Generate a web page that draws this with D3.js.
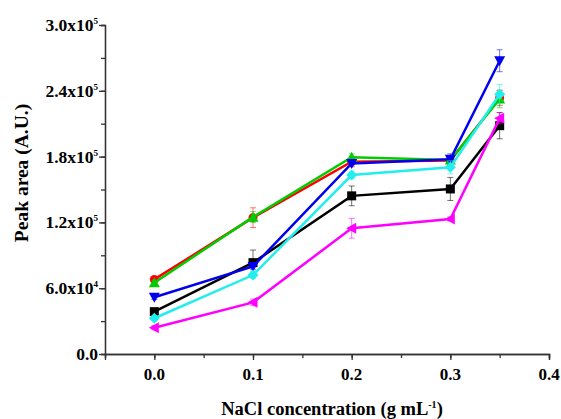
<!DOCTYPE html>
<html lang="en">
<head>
<meta charset="utf-8">
<script src="https://d3js.org/d3.v7.min.js"></script>
<style>
  body { margin: 0; background: #fff; }
  text { font-family: "Liberation Serif", "Times New Roman", serif; font-weight: bold; fill: #000; }
  .axis path, .axis line { stroke: #333; stroke-width: 1.3px; }
</style>
</head>
<body>
<svg id="chart" width="561" height="419"></svg>
<script>
// NaCl concentration (g/mL)
const conc = [0, 0.1, 0.2, 0.3, 0.35];

// peak areas per series
const blackVals   = [38600, 83300, 144200, 150500, 208200];
const redVals     = [68000, 124300, 175400, 176500, 233500];
const greenVals   = [65000, 124800, 179500, 176900, 232500];
const blueVals    = [51700, 79800, 173800, 177500, 267400];
const cyanVals    = [32600, 72000, 163200, 170200, 236800];
const magentaVals = [24000, 47100, 114600, 123100, 214900];

// error bars (+/-)
const blackErr   = [2500, 11500, 9000, 10500, 12000];
const redErr     = [2000, 9000, 3000, 4000, 7000];
const greenErr   = [2000, 5000, 3000, 4000, 8000];
const blueErr    = [2000, 3000, 3000, 5000, 10000];
const cyanErr    = [2000, 3000, 3000, 6000, 9000];
const magentaErr = [2000, 3000, 9000, 2000, 5000];

const yTicks = [0, 60000, 120000, 180000, 240000, 300000];
const yTickText = [["0.0", ""], ["6.0x10", "4"], ["1.2x10", "5"], ["1.8x10", "5"], ["2.4x10", "5"], ["3.0x10", "5"]];
const xTicks = [0, 0.1, 0.2, 0.3, 0.4];

const series = [
  {vals: blackVals,   err: blackErr,   color: "#000000", sym: "square"},
  {vals: redVals,     err: redErr,     color: "#ff0000", sym: "circle"},
  {vals: greenVals,   err: greenErr,   color: "#00cc00", sym: "up"},
  {vals: blueVals,    err: blueErr,    color: "#0000ee", sym: "down"},
  {vals: cyanVals,    err: cyanErr,    color: "#22eeee", sym: "diamond"},
  {vals: magentaVals, err: magentaErr, color: "#ff00ff", sym: "left"}
];

const svg = d3.select("#chart");
const x = d3.scaleLinear().domain([-0.05, 0.4]).range([105, 549]);
const y = d3.scaleLinear().domain([0, 300000]).range([354, 25]);

// axes: minor ticks first, then majors
svg.append("g").attr("class", "axis").attr("transform", "translate(0,354)")
  .call(d3.axisBottom(x).tickValues(d3.range(-0.05, 0.41, 0.05)).tickSize(4).tickFormat(""));
svg.append("g").attr("class", "axis").attr("transform", "translate(0,354)")
  .call(d3.axisBottom(x).tickValues(xTicks).tickSize(6).tickSizeOuter(6).tickFormat(""));
svg.append("g").attr("class", "axis").attr("transform", "translate(105,0)")
  .call(d3.axisLeft(y).tickValues(d3.range(0, 300001, 30000)).tickSize(4).tickFormat(""));
svg.append("g").attr("class", "axis").attr("transform", "translate(105,0)")
  .call(d3.axisLeft(y).tickValues(yTicks).tickSize(6).tickSizeOuter(0).tickFormat(""));

// x tick labels
svg.append("g").selectAll("text").data(xTicks).join("text")
  .attr("x", d => x(d)).attr("y", 380)
  .attr("text-anchor", "middle").style("font-size", "17px")
  .text(d => d.toFixed(1));

// y tick labels with superscript exponents
const yl = svg.append("g").selectAll("text").data(yTicks).join("text")
  .attr("x", 98).attr("y", d => y(d) + 6)
  .attr("text-anchor", "end").style("font-size", "17.5px");
yl.append("tspan").text((d, i) => yTickText[i][0]);
yl.append("tspan").attr("dy", -7).style("font-size", "9px").text((d, i) => yTickText[i][1]);

// axis titles
svg.append("text").attr("transform", "translate(28,173) rotate(-90)")
  .attr("text-anchor", "middle").style("font-size", "19.5px").text("Peak area (A.U.)");
const xt = svg.append("text").attr("x", 332).attr("y", 415)
  .attr("text-anchor", "middle").style("font-size", "18.5px");
xt.append("tspan").text("NaCl concentration (g mL");
xt.append("tspan").attr("dy", -7).style("font-size", "10px").text("-1");
xt.append("tspan").attr("dy", 7).text(")");

const line = d3.line().x((d, i) => x(conc[i])).y(d => y(d));

function marker(g, sym, color) {
  const s = 4.5;
  if (sym === "square") g.append("rect").attr("x", -s).attr("y", -s).attr("width", 2 * s).attr("height", 2 * s).attr("fill", color);
  else if (sym === "circle") g.append("circle").attr("r", s).attr("fill", color);
  else {
    let pts;
    if (sym === "up") pts = [[0, -s - 1], [s + 1, s], [-s - 1, s]];
    if (sym === "down") pts = [[0, s + 1], [s + 1, -s], [-s - 1, -s]];
    if (sym === "left") pts = [[-s - 1, 0], [s, -s - 1], [s, s + 1]];
    if (sym === "diamond") pts = [[0, -s - 1], [s + 1, 0], [0, s + 1], [-s - 1, 0]];
    g.append("polygon").attr("points", pts.map(p => p.join(",")).join(" ")).attr("fill", color);
  }
}

series.forEach(s => {
  const g = svg.append("g");
  // error bars
  const eb = g.selectAll("g.err").data(s.vals).join("g").attr("class", "err")
    .attr("stroke", s.color).attr("stroke-opacity", 0.55).attr("stroke-width", 1);
  eb.append("line").attr("x1", (d, i) => x(conc[i])).attr("x2", (d, i) => x(conc[i]))
    .attr("y1", (d, i) => y(d - s.err[i])).attr("y2", (d, i) => y(d + s.err[i]));
  eb.append("line").attr("x1", (d, i) => x(conc[i]) - 3).attr("x2", (d, i) => x(conc[i]) + 3)
    .attr("y1", (d, i) => y(d + s.err[i])).attr("y2", (d, i) => y(d + s.err[i]));
  eb.append("line").attr("x1", (d, i) => x(conc[i]) - 3).attr("x2", (d, i) => x(conc[i]) + 3)
    .attr("y1", (d, i) => y(d - s.err[i])).attr("y2", (d, i) => y(d - s.err[i]));
  // line
  g.append("path").datum(s.vals).attr("d", line)
    .attr("fill", "none").attr("stroke", s.color).attr("stroke-width", 2.5);
  // markers
  g.selectAll("g.mk").data(s.vals).join("g").attr("class", "mk")
    .attr("transform", (d, i) => `translate(${x(conc[i])},${y(d)})`)
    .each(function () { marker(d3.select(this), s.sym, s.color); });
});
</script>
</body>
</html>
